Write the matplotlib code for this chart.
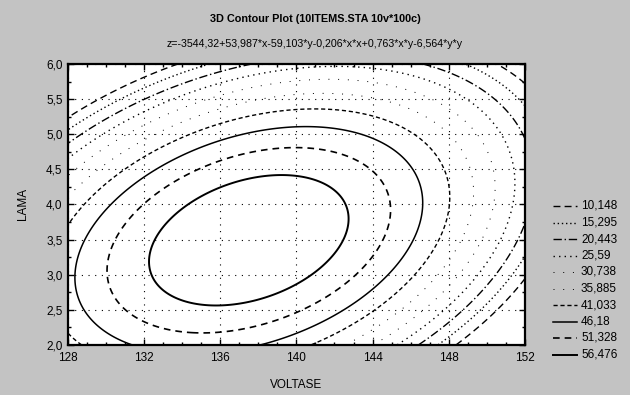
import numpy as np
import matplotlib
matplotlib.use('Agg')
import matplotlib.pyplot as plt
from matplotlib.lines import Line2D
from matplotlib.ticker import MultipleLocator, FuncFormatter

plt.rcParams['font.family'] = ['Liberation Sans', 'DejaVu Sans']

# fitted surface from the chart header: z = c0 + cx*x + cy*y + cxx*x*x + cxy*x*y + cyy*y*y
# the printed coefficients are rounded, so the constant is re-read from where
# the contours sit in the picture (peak about 61.5 instead of 64)
coef_names = ['c0', 'cx', 'cy', 'cxx', 'cxy', 'cyy']
coef_values = [-3546.92, 53.987, -59.103, -0.206, 0.763, -6.564]

x_range = [128, 152]
y_range = [2.0, 6.0]

levels = [10.148, 15.295, 20.443, 25.59, 30.738, 35.885, 41.033, 46.18, 51.328, 56.476]
level_labels = ['10,148', '15,295', '20,443', '25,59', '30,738', '35,885',
                '41,033', '46,18', '51,328', '56,476']

title = '3D Contour Plot (10ITEMS.STA 10v*100c)'
formula = 'z=-3544,32+53,987*x-59,103*y-0,206*x*x+0,763*x*y-6,564*y*y'

# line style per level (as seen in the legend)
styles = [(0, (5, 3)), (0, (1, 2)), (0, (6, 2, 1, 2)), (0, (1, 3)), (0, (1, 9)),
          (0, (1, 9)), (0, (3, 2)), 'solid', (0, (4, 3)), 'solid']
widths = [1.0, 1.0, 1.0, 1.0, 0.7, 0.7, 1.0, 1.1, 1.2, 1.4]

bg = '#c3c3c3'

c = dict(zip(coef_names, coef_values))
xs = np.linspace(x_range[0], x_range[1], 300)
ys = np.linspace(y_range[0], y_range[1], 300)
X, Y = np.meshgrid(xs, ys)
Z = (c['c0'] + c['cx'] * X + c['cy'] * Y + c['cxx'] * X * X
     + c['cxy'] * X * Y + c['cyy'] * Y * Y)

fig = plt.figure(figsize=(6.3, 3.95), dpi=100, facecolor=bg)
ax = fig.add_axes([0.108, 0.127, 0.725, 0.711])
ax.set_facecolor('white')

ax.contour(X, Y, Z, levels=levels, colors='k', linestyles=styles, linewidths=widths)

ax.set_xlim(x_range)
ax.set_ylim(y_range)
ax.xaxis.set_major_locator(MultipleLocator(4))
ax.xaxis.set_minor_locator(MultipleLocator(1))
ax.yaxis.set_major_locator(MultipleLocator(0.5))
ax.yaxis.set_minor_locator(MultipleLocator(0.25))
ax.yaxis.set_major_formatter(FuncFormatter(lambda v, p: ('%.1f' % v).replace('.', ',')))
ax.tick_params(which='both', direction='in', colors='k', labelsize=8.5,
               top=True, right=True)
ax.tick_params(axis='x', pad=5)
ax.tick_params(axis='y', pad=4)
ax.tick_params(which='major', length=4, width=1)
ax.tick_params(which='minor', length=2.5, width=1)
ax.grid(True, which='major', color='k', linestyle=(0, (1, 5)), linewidth=0.8)
for s in ax.spines.values():
    s.set_linewidth(1.6)

ax.set_xlabel('VOLTASE', fontsize=8.5, labelpad=11)
ax.set_ylabel('LAMA', fontsize=8.5, labelpad=12)

fig.text(0.5, 0.952, title, ha='center', va='center', fontsize=7.8, fontweight='bold')
fig.text(0.5, 0.889, formula, ha='center', va='center', fontsize=7.7)

# legend on the right
top_y = 1 - 206 / 395
step = 16.5 / 395
for i, (lab, st, lw) in enumerate(zip(level_labels, styles, widths)):
    yy = top_y - i * step
    fig.add_artist(Line2D([553 / 630, 577 / 630], [yy, yy], color='k', linestyle=st,
                          linewidth=lw, transform=fig.transFigure))
    fig.text(581 / 630, yy, lab, ha='left', va='center', fontsize=8.5)

fig.savefig('out.png', dpi=100, facecolor=bg)
